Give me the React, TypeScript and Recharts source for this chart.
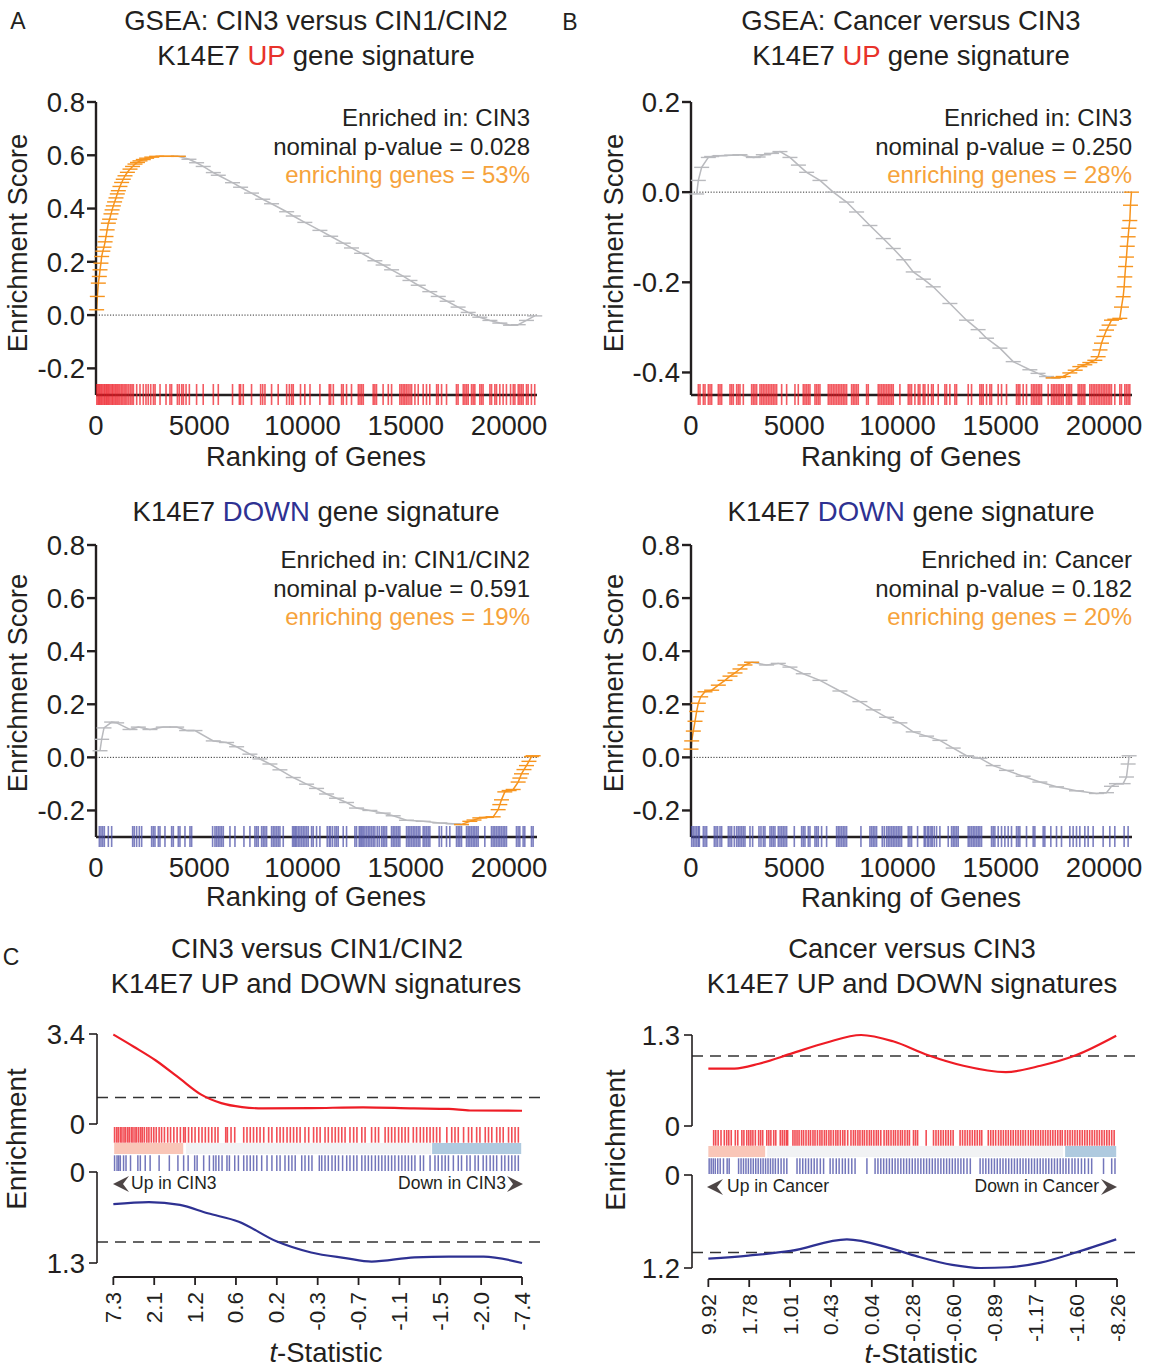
import React from "react";
import { ComposedChart, Line, Scatter, XAxis, YAxis, ReferenceLine, ReferenceArea } from "recharts";

const FONT = '"Liberation Sans", Arial, Helvetica, sans-serif';
const INK = "#231f20";
const GRAY = "#b9babe";
const ORANGE = "#f7941d";
const ORANGE_TXT = "#f6a33c";
const RED = "#ee1c25";
const NAVY = "#2e3192";
const BAR_BLUE = "#4b4fa8";

// ---------- GSEA panels: running enrichment score [rank, ES] ----------
const rankTicks = [0, 5000, 10000, 15000, 20000];

const upLeadA = [[30,0.02],[64,0.07],[113,0.12],[160,0.145],[194,0.17],[240,0.195],[274,0.22],[330,0.24],[387,0.255],[440,0.275],[484,0.295],[540,0.32],[597,0.345],[660,0.36],[726,0.38],[780,0.395],[839,0.41],[900,0.425],[968,0.44],[1030,0.455],[1081,0.467],[1160,0.483],[1242,0.498],[1320,0.51],[1404,0.523],[1520,0.536],[1646,0.548],[1770,0.558],[1888,0.567],[2010,0.573],[2130,0.579],[2290,0.584],[2452,0.589],[2700,0.593],[2936,0.596],[3420,0.596],[3985,0.596]];
const upGrayA = [[3985,0.596],[4500,0.585],[4870,0.572],[5190,0.558],[5680,0.535],[5920,0.525],[6610,0.497],[7000,0.48],[7530,0.458],[8070,0.435],[8500,0.418],[9230,0.388],[9550,0.372],[10110,0.348],[10840,0.318],[11360,0.296],[11970,0.27],[12370,0.252],[12860,0.232],[13500,0.204],[13900,0.188],[14310,0.17],[14870,0.146],[15200,0.13],[15600,0.112],[16160,0.088],[16570,0.07],[17000,0.052],[17530,0.03],[18020,0.01],[18580,-0.008],[19070,-0.02],[19550,-0.03],[20070,-0.038],[20440,-0.036],[20840,-0.02],[21240,-0.003]];
const upHitsA = [40,100,150,200,260,310,380,430,490,540,600,650,720,780,830,900,960,1020,1080,1150,1220,1290,1360,1430,1500,1580,1660,1740,1810,1970,2130,2290,2420,2530,2650,2780,2860,3100,3390,3580,3660,3940,4030,4150,4230,4360,4520,4870,5190,5680,5920,6610,6940,7000,7130,7530,7970,8070,8180,8500,8820,9230,9360,9470,9550,9900,10110,10360,10840,11290,11360,11490,11890,11970,12130,12370,12700,12780,12860,12940,13420,13500,13580,13900,14150,14310,14710,14790,14870,14950,15030,15110,15200,15280,15440,15600,15840,16000,16160,16490,16570,16730,16970,17450,17530,17780,17860,17940,18020,18180,18260,18340,18580,18660,18740,19070,19150,19310,19390,19550,19710,19870,20070,20200,20280,20440,20520,20600,20680,20840,20920,21080,21240];

const upGrayB = [[274,-0.004],[355,0.026],[516,0.055],[839,0.077],[1000,0.079],[1404,0.081],[1968,0.082],[2372,0.083],[3017,0.077],[3250,0.078],[3501,0.083],[3900,0.086],[4307,0.09],[4791,0.077],[5200,0.06],[5598,0.044],[6243,0.026],[6888,0.0],[7533,-0.022],[8017,-0.044],[8662,-0.074],[9307,-0.103],[9791,-0.125],[10300,-0.15],[10759,-0.177],[11250,-0.193],[11727,-0.21],[12534,-0.247],[13340,-0.284],[13900,-0.305],[14308,-0.324],[14953,-0.346],[15598,-0.376],[16405,-0.394],[16800,-0.402],[17212,-0.409],[17534,-0.412]];
const upLeadB = [[17534,-0.412],[17800,-0.411],[18018,-0.409],[18340,-0.401],[18600,-0.395],[18824,-0.387],[19066,-0.383],[19308,-0.378],[19550,-0.373],[19711,-0.365],[19800,-0.35],[19873,-0.335],[19990,-0.32],[20115,-0.306],[20240,-0.295],[20357,-0.284],[20518,-0.282],[20760,-0.28],[20840,-0.255],[20921,-0.232],[20970,-0.21],[21002,-0.188],[21040,-0.165],[21082,-0.144],[21120,-0.12],[21163,-0.099],[21200,-0.08],[21244,-0.063],[21276,-0.029],[21324,0.0]];
const upHitsB = [355,436,597,678,839,920,1000,1323,1404,1484,1888,1968,2049,2210,2291,2371,2533,2936,3017,3097,3178,3339,3420,3500,3581,3662,3743,3823,3904,3984,4065,4146,4388,4630,5033,5194,5436,5517,5597,5678,5759,6001,6081,6162,6243,6646,6727,6807,6888,6969,7049,7130,7210,7291,7372,7452,7533,7775,7856,7936,8017,8098,8501,8582,9065,9146,9227,9307,9388,9469,9549,9630,9711,9791,10114,10517,10598,10678,10840,11001,11082,11243,11324,11485,11646,11727,11969,12291,12372,12533,12775,12856,13421,13582,13985,14066,14146,14308,14469,14550,14872,15034,15275,15759,15840,15921,16082,16243,16485,16566,16647,16727,16808,16888,16969,17292,17453,17534,17614,17695,17776,17856,17937,18018,18179,18260,18340,18421,18743,18824,18905,18985,19066,19308,19389,19469,19550,19630,19711,19792,19873,19953,20034,20114,20195,20276,20356,20518,20760,20840,21002,21082,21163,21244];

const dnGrayA = [[194,0.025],[274,0.068],[387,0.111],[758,0.133],[1000,0.13],[1646,0.105],[2049,0.114],[2613,0.105],[3259,0.114],[3904,0.114],[4388,0.101],[4791,0.101],[5678,0.062],[6323,0.056],[6807,0.04],[7452,0.012],[7936,-0.006],[8420,-0.025],[8904,-0.047],[9549,-0.076],[10194,-0.101],[10678,-0.117],[11162,-0.138],[11646,-0.154],[12130,-0.17],[12614,-0.191],[13259,-0.2],[13904,-0.21],[14388,-0.22],[15033,-0.237],[15840,-0.241],[16646,-0.247],[17292,-0.25],[17695,-0.253]];
const dnLeadA = [[17695,-0.253],[18098,-0.241],[18300,-0.236],[18582,-0.228],[18900,-0.226],[19228,-0.224],[19469,-0.197],[19550,-0.178],[19630,-0.16],[19792,-0.13],[20000,-0.125],[20195,-0.121],[20437,-0.093],[20520,-0.078],[20598,-0.062],[20720,-0.046],[20840,-0.031],[20960,-0.015],[21082,0.003],[21163,0.006]];
const dnHitsA = [162,242,323,404,597,758,1775,1855,1968,2097,2210,2694,2775,2855,3017,3097,3339,3662,3743,3984,4065,4307,4549,4630,5646,5759,5839,5920,6001,6081,6162,6485,6727,7162,7452,7694,7775,7856,8017,8098,8178,8259,8501,8582,8662,8743,8823,8904,9065,9517,9582,9646,9711,9791,9872,9953,10033,10114,10195,10275,10436,10517,10678,10840,11195,11291,11356,11453,11566,11646,11727,11969,12130,12533,12614,12743,12808,12872,12937,13017,13098,13179,13259,13340,13421,13501,13614,13711,13824,13904,13985,14066,14308,14388,14469,14550,14630,14711,15034,15114,15195,15275,15356,15437,15517,15598,15679,15840,15921,16001,16082,16163,16614,16727,16969,17130,17453,17534,17614,17695,17937,18018,18098,18179,18260,18340,18421,18501,18824,19147,19227,19308,19389,19469,19550,19630,19711,19792,19872,20356,20437,20518,20679,20759,21082,21163];

const dnLeadB = [[0,0.031],[33,0.062],[113,0.099],[194,0.136],[274,0.173],[355,0.204],[468,0.228],[678,0.247],[1000,0.253],[1323,0.272],[1646,0.29],[1888,0.306],[2130,0.318],[2371,0.333],[2613,0.348],[2936,0.358]];
const dnGrayB = [[2936,0.358],[3662,0.348],[4226,0.354],[4791,0.34],[5436,0.315],[6243,0.29],[7210,0.25],[8178,0.21],[8823,0.179],[9468,0.151],[10114,0.13],[10759,0.096],[11404,0.08],[12049,0.064],[12694,0.035],[13340,0.006],[13985,-0.003],[14630,-0.031],[15275,-0.049],[16081,-0.071],[16888,-0.093],[17695,-0.111],[18662,-0.126],[19630,-0.136],[20114,-0.133],[20356,-0.109],[20598,-0.099],[20921,-0.099],[21082,-0.074],[21163,-0.025],[21211,0.006]];
const dnHitsB = [33,113,194,275,355,404,597,678,758,1129,1210,1291,1404,1484,1807,1888,1968,2097,2210,2291,2371,2452,2533,2613,2855,2984,3291,3388,3501,3581,3823,3904,3984,4065,4226,4307,4388,4468,4549,4630,5001,5356,5436,5517,5678,5759,6001,6081,6162,6323,6565,7049,7130,7210,7291,7372,7452,7533,8227,8662,8743,8823,8904,8985,9259,9356,9469,9549,9630,9711,9791,9872,9953,10033,10114,10195,10517,10598,10678,10969,11291,11356,11453,11517,11614,11678,11775,11888,12049,12453,12614,12695,12775,12856,12937,13421,13501,13582,13663,13743,13824,13904,13985,14066,14550,14630,14711,14872,15034,15195,15356,15517,15759,15840,15921,16243,16566,16647,17050,17130,17421,17695,17937,18340,18501,18663,18824,19066,19227,19469,19953,20276,20518,20969,21163];

// ---------- Barcode enrichment panels (position in ranked list, %) ----------
const cinTickLabels = ["7.3", "2.1", "1.2", "0.6", "0.2", "-0.3", "-0.7", "-1.1", "-1.5", "-2.0", "-7.4"];
const canTickLabels = ["9.92", "1.78", "1.01", "0.43", "0.04", "-0.28", "-0.60", "-0.89", "-1.17", "-1.60", "-8.26"];

const cinUpCurve = [[0,3.38],[5,2.92],[10.4,2.4],[16.3,1.71],[21.4,1.12],[26.4,0.79],[31.5,0.64],[36.6,0.59],[48.4,0.6],[61.1,0.63],[73.5,0.59],[82.1,0.57],[87.3,0.51],[100,0.5]];
const cinDownCurve = [[0,0.46],[8.7,0.43],[16.3,0.47],[23.1,0.59],[30.7,0.71],[39.9,0.99],[48.4,1.15],[56.8,1.23],[63.2,1.28],[73.7,1.22],[82.1,1.21],[90.6,1.21],[100,1.3]];
const canUpCurve = [[0,0.82],[6.4,0.82],[12.4,0.89],[20.1,1.03],[28.8,1.19],[37.4,1.3],[45.2,1.21],[53.8,1.01],[62.4,0.86],[72.8,0.77],[81.3,0.86],[89.9,1.01],[99.8,1.29]];
const canDownCurve = [[0,1.08],[9.8,1.04],[20.1,0.98],[33.9,0.83],[44.2,0.94],[51.1,1.05],[59.7,1.16],[66.6,1.2],[73.5,1.19],[81.3,1.13],[89.9,1.0],[99.8,0.83]];

const cinUpHits = [0.3,0.8,1.2,1.7,2.1,2.6,3.0,3.5,3.9,4.4,4.8,5.3,5.7,6.2,6.7,7.1,7.6,8.2,8.7,9.3,9.9,10.5,11.2,11.8,12.5,13.3,14.0,14.8,15.6,16.4,17.2,17.6,18.4,19.2,20.0,20.9,21.7,22.5,23.3,24.1,24.9,25.6,27.5,27.9,28.8,29.7,31.9,32.7,33.5,34.3,35.1,35.9,36.8,38.0,38.8,40.0,40.8,41.6,42.5,43.3,44.1,44.9,45.7,46.9,47.8,49.0,49.8,50.6,51.8,52.6,53.5,54.3,55.1,55.9,56.7,57.9,58.8,59.6,60.8,61.6,63.2,64.1,64.9,66.5,67.3,68.1,68.9,69.8,70.6,71.4,72.2,73.4,74.2,75.1,75.9,76.7,77.5,78.3,79.1,79.9,81.6,82.8,83.6,84.4,85.7,86.9,87.7,88.9,89.7,91.0,91.8,92.6,93.8,94.6,95.4,96.7,97.5,98.3,99.1];
const cinDownHits = [0.3,0.9,1.3,1.7,2.5,3.1,4.2,6.0,6.6,7.8,9.0,11.2,13.7,15.8,17.2,18.3,19.9,20.5,22.1,23.5,24.5,25.1,25.8,26.6,27.8,28.4,29.7,30.6,31.9,32.7,33.5,34.3,35.1,36.3,37.6,38.8,40.0,40.8,42.0,42.9,43.7,44.5,46.1,46.9,47.8,48.6,50.4,51.0,51.8,52.6,53.5,54.3,55.1,56.1,57.1,57.9,58.8,59.6,60.8,61.6,62.4,63.2,64.1,64.9,65.7,66.5,67.3,68.1,68.9,69.8,70.6,71.4,72.2,73.0,73.8,75.1,75.9,77.5,78.7,79.5,80.4,81.2,82.0,83.2,84.4,85.2,86.5,87.3,88.5,89.3,90.5,91.3,92.2,93.0,93.8,95.0,95.8,96.7,97.5,98.3,99.1];
const canUpHits = [1.3,1.8,2.4,3.1,3.9,4.5,5.0,5.6,6.6,7.2,8.2,8.7,9.4,9.9,10.4,10.9,11.5,12.3,12.8,13.3,14.3,14.8,15.3,16.0,16.5,17.6,18.1,18.6,19.1,19.4,20.7,21.2,21.7,22.2,22.8,23.3,23.9,24.5,25.0,25.6,26.1,26.7,27.3,27.8,28.4,28.9,29.5,30.0,30.6,31.2,31.7,32.3,32.9,33.4,34.1,34.9,35.5,36.0,36.6,37.1,37.7,38.2,38.8,39.4,39.9,40.5,41.1,41.6,42.2,43.0,43.6,44.1,44.7,45.3,45.8,46.4,47.0,47.5,48.1,48.7,49.2,50.2,50.7,51.2,53.3,55.1,55.7,56.3,56.9,57.5,58.1,58.7,59.3,59.9,61.6,62.2,62.8,63.4,64.0,64.6,65.2,65.8,66.4,66.9,68.5,69.1,69.7,70.3,71.0,71.6,72.2,72.8,73.4,74.0,74.6,75.2,75.8,76.4,77.0,77.6,78.3,78.9,79.5,80.1,80.7,81.3,81.9,82.5,83.1,83.7,84.3,84.9,85.5,86.1,86.6,87.3,87.9,88.5,89.1,89.7,90.3,90.9,91.5,92.1,92.7,93.3,93.9,94.5,95.1,95.7,96.3,96.9,97.5,98.1,98.7,99.3];
const canDownHits = [0.2,0.7,1.2,1.7,2.3,2.9,3.7,4.6,5.1,7.4,8.0,8.6,9.2,9.8,10.4,11.0,11.6,12.2,12.8,13.4,14.0,14.6,15.2,15.8,16.4,17.1,17.8,18.5,19.2,21.7,22.4,23.1,23.8,24.5,25.2,25.9,26.6,27.4,28.2,29.8,30.5,31.3,32.0,32.8,33.5,34.3,35.1,35.9,38.8,40.8,41.5,42.2,42.9,43.6,44.3,45.0,45.7,46.4,47.1,47.8,48.5,49.2,49.9,50.6,51.3,52.0,52.7,53.4,54.1,54.8,55.5,56.2,56.9,57.6,58.3,59.0,59.7,60.4,61.1,61.8,62.5,63.3,64.1,66.5,67.2,67.9,68.6,69.3,70.0,70.7,71.4,72.1,72.8,73.5,74.2,74.9,75.6,76.3,77.0,77.7,78.4,79.1,79.8,80.5,81.2,81.9,82.6,83.3,84.0,84.7,85.4,86.1,86.8,87.5,88.2,89.0,89.7,90.5,91.3,92.1,93.0,93.8,96.7,98.7,99.5];

const cinBands = [{ from: 0.2, to: 17.1, kind: "up" }, { from: 17.8, to: 77.8, kind: "mid" }, { from: 78.0, to: 99.8, kind: "down" }];
const canBands = [{ from: 0.0, to: 13.9, kind: "up" }, { from: 14.4, to: 86.8, kind: "mid" }, { from: 87.3, to: 99.8, kind: "down" }];
const bandFill: Record<string, string> = { up: "#f9c6b8", mid: "#f1f2f4", down: "#afcadf" };

const pts = (a: number[][]) => a.map(([x, y]) => ({ x, y }));

function Txt({ x, y, size = 27.5, align = "center", color = INK, rot = false, children }: any) {
  const tx = align === "center" ? "-50%" : align === "right" ? "-100%" : "0";
  return (
    <div style={{ position: "absolute", left: x, top: y, fontSize: size, lineHeight: 1, whiteSpace: "nowrap", color, fontFamily: FONT, transform: `translate(${tx}, -50%)${rot ? " rotate(-90deg)" : ""}` }}>
      {children}
    </div>
  );
}

const dash = (color: string) => (p: any) => (
  <line key={`d${p.index}`} x1={p.cx - 7.5} x2={p.cx + 7.5} y1={p.cy} y2={p.cy} stroke={color} strokeWidth={1.4} />
);
const tick = (color: string, up: number, down: number, op: number, w: number) => (p: any) => (
  <line x1={p.cx} x2={p.cx} y1={p.cy - up} y2={p.cy + down} stroke={color} strokeOpacity={op} strokeWidth={w} />
);

const tickFont = { fontSize: 27.5, fill: INK, fontFamily: FONT };

function GseaPanel({ axisX, top, bottom, yDomain, yTicks, gray, lead, hits, hitColor }: any) {
  const h = bottom - top;
  const hitPts = hits.map((r: number) => ({ x: r, y: yDomain[0] }));
  return (
    <div style={{ position: "absolute", left: axisX - 60, top: top - 14 }}>
      <ComposedChart width={60 + 441 + 16} height={14 + h + 50} margin={{ top: 14, right: 16, bottom: 0, left: 0 }}>
        <XAxis type="number" dataKey="x" domain={[0, 21350]} ticks={rankTicks} interval={0} tickLine={false} tickSize={0} tickMargin={20} height={50} axisLine={{ stroke: INK, strokeWidth: 2.4 }} tick={tickFont} />
        <YAxis type="number" dataKey="y" domain={yDomain} ticks={yTicks} interval={0} width={60} tickSize={9} tickMargin={2} tickFormatter={(v: number) => v.toFixed(1)} axisLine={{ stroke: INK, strokeWidth: 2.4 }} tickLine={{ stroke: INK, strokeWidth: 2.4 }} tick={tickFont} />
        <ReferenceLine y={0} stroke="#333" strokeWidth={1} strokeDasharray="1.2 1.6" />
        <Scatter data={hitPts} shape={tick(hitColor, 11, 10, 0.72, 1.6)} isAnimationActive={false} />
        <Line data={pts(gray)} dataKey="y" type="linear" stroke={GRAY} strokeWidth={1.5} dot={dash(GRAY)} activeDot={false} isAnimationActive={false} />
        <Line data={pts(lead)} dataKey="y" type="linear" stroke={ORANGE} strokeWidth={1.5} dot={dash(ORANGE)} activeDot={false} isAnimationActive={false} />
      </ComposedChart>
    </div>
  );
}

const X_DOMAIN = [-4, 104.4];

function CurveChart({ axisX, top, h, max, reversed, curve, color }: any) {
  return (
    <div style={{ position: "absolute", left: axisX - 60, top: top - 16 }}>
      <ComposedChart width={505} height={16 + h + 16} margin={{ top: 16, right: 2, bottom: 16, left: 0 }}>
        <XAxis type="number" dataKey="x" domain={X_DOMAIN} hide />
        <YAxis type="number" dataKey="y" domain={[0, max]} ticks={[0, max]} interval={0} reversed={reversed} width={60} tickSize={8} tickMargin={4} tickFormatter={(v: number) => String(v)} axisLine={{ stroke: INK, strokeWidth: 1.6 }} tickLine={{ stroke: INK, strokeWidth: 1.6 }} tick={tickFont} />
        <ReferenceLine y={1} stroke="#333" strokeWidth={1.4} strokeDasharray="11 7" />
        <Line data={pts(curve)} dataKey="y" type="monotone" stroke={color} strokeWidth={2.2} dot={false} activeDot={false} isAnimationActive={false} />
      </ComposedChart>
    </div>
  );
}

function BarcodeChart({ axisX, top, upHits, downHits, bands }: any) {
  return (
    <div style={{ position: "absolute", left: axisX - 60, top }}>
      <ComposedChart width={505} height={44} margin={{ top: 0, right: 2, bottom: 0, left: 60 }}>
        <XAxis type="number" dataKey="x" domain={X_DOMAIN} hide />
        <YAxis type="number" dataKey="y" domain={[0, 4]} hide />
        {bands.map((b: any) => (
          <ReferenceArea key={b.kind} x1={b.from} x2={b.to} y1={1.55} y2={2.55} fill={bandFill[b.kind]} fillOpacity={1} stroke="none" />
        ))}
        <Scatter data={upHits.map((x: number) => ({ x, y: 3.3 }))} shape={tick(RED, 8, 8, 0.78, 1.6)} isAnimationActive={false} />
        <Scatter data={downHits.map((x: number) => ({ x, y: 0.7 }))} shape={tick(BAR_BLUE, 8, 8, 0.78, 1.5)} isAnimationActive={false} />
      </ComposedChart>
    </div>
  );
}

function StatAxis({ axisX, y, labels, size, h }: any) {
  const positions = labels.map((_: string, i: number) => i * 10);
  const RotTick = (p: any) => (
    <text x={p.x} y={p.y} transform={`rotate(-90 ${p.x} ${p.y})`} textAnchor="end" dominantBaseline="central" fontSize={size} fill={INK} fontFamily={FONT}>
      {labels[Math.round(p.payload.value / 10)]}
    </text>
  );
  return (
    <div style={{ position: "absolute", left: axisX - 60, top: y - 10 }}>
      <ComposedChart width={505} height={10 + h} data={positions.map((x: number) => ({ x, y: 0 }))} margin={{ top: 10, right: 20, bottom: 0, left: 76.35 }}>
        <XAxis type="number" dataKey="x" domain={[0, 100]} ticks={positions} height={h} tickSize={8} tickMargin={7} axisLine={{ stroke: INK, strokeWidth: 1.8 }} tickLine={{ stroke: INK, strokeWidth: 1.8 }} tick={RotTick} interval={0} />
        <YAxis type="number" dataKey="y" domain={[0, 1]} hide />
      </ComposedChart>
    </div>
  );
}

const Arrow = ({ x, y, dir }: any) => (
  <svg style={{ position: "absolute", left: x, top: y - 9 }} width={16} height={18}>
    <polygon points={dir < 0 ? "0,9 16,1 10,9 16,17" : "16,9 0,1 6,9 0,17"} fill="#4d4545" />
  </svg>
);

export default function App() {
  return (
    <div style={{ position: "absolute", left: 0, top: 0, width: 1151, height: 1369, background: "#fff", fontFamily: FONT, overflow: "hidden" }}>
      {/* Panel letters */}
      <Txt x={18} y={21} size={23}>A</Txt>
      <Txt x={570} y={22} size={23}>B</Txt>
      <Txt x={11} y={957} size={23}>C</Txt>

      {/* Titles */}
      <Txt x={316} y={21}>GSEA: CIN3 versus CIN1/CIN2</Txt>
      <Txt x={316} y={56}>K14E7 <span style={{ color: "#e8322b" }}>UP</span> gene signature</Txt>
      <Txt x={911} y={21}>GSEA: Cancer versus CIN3</Txt>
      <Txt x={911} y={56}>K14E7 <span style={{ color: "#e8322b" }}>UP</span> gene signature</Txt>
      <Txt x={316} y={512}>K14E7 <span style={{ color: NAVY }}>DOWN</span> gene signature</Txt>
      <Txt x={911} y={512}>K14E7 <span style={{ color: NAVY }}>DOWN</span> gene signature</Txt>
      <Txt x={317} y={949}>CIN3 versus CIN1/CIN2</Txt>
      <Txt x={316} y={984}>K14E7 UP and DOWN signatures</Txt>
      <Txt x={912} y={949}>Cancer versus CIN3</Txt>
      <Txt x={912} y={984}>K14E7 UP and DOWN signatures</Txt>

      {/* GSEA panels */}
      <GseaPanel axisX={96} top={102} bottom={395} yDomain={[-0.3, 0.8]} yTicks={[-0.2, 0, 0.2, 0.4, 0.6, 0.8]} gray={upGrayA} lead={upLeadA} hits={upHitsA} hitColor={RED} />
      <GseaPanel axisX={691} top={102} bottom={395} yDomain={[-0.45, 0.2]} yTicks={[-0.4, -0.2, 0, 0.2]} gray={upGrayB} lead={upLeadB} hits={upHitsB} hitColor={RED} />
      <GseaPanel axisX={96} top={545} bottom={837} yDomain={[-0.3, 0.8]} yTicks={[-0.2, 0, 0.2, 0.4, 0.6, 0.8]} gray={dnGrayA} lead={dnLeadA} hits={dnHitsA} hitColor={BAR_BLUE} />
      <GseaPanel axisX={691} top={545} bottom={837} yDomain={[-0.3, 0.8]} yTicks={[-0.2, 0, 0.2, 0.4, 0.6, 0.8]} gray={dnGrayB} lead={dnLeadB} hits={dnHitsB} hitColor={BAR_BLUE} />

      {/* GSEA annotations */}
      <Txt x={530} y={118} size={24} align="right">Enriched in: CIN3</Txt>
      <Txt x={530} y={147} size={24} align="right">nominal p-value = 0.028</Txt>
      <Txt x={530} y={175} size={24} align="right" color={ORANGE_TXT}>enriching genes = 53%</Txt>
      <Txt x={1132} y={118} size={24} align="right">Enriched in: CIN3</Txt>
      <Txt x={1132} y={147} size={24} align="right">nominal p-value = 0.250</Txt>
      <Txt x={1132} y={175} size={24} align="right" color={ORANGE_TXT}>enriching genes = 28%</Txt>
      <Txt x={530} y={560} size={24} align="right">Enriched in: CIN1/CIN2</Txt>
      <Txt x={530} y={589} size={24} align="right">nominal p-value = 0.591</Txt>
      <Txt x={530} y={617} size={24} align="right" color={ORANGE_TXT}>enriching genes = 19%</Txt>
      <Txt x={1132} y={560} size={24} align="right">Enriched in: Cancer</Txt>
      <Txt x={1132} y={589} size={24} align="right">nominal p-value = 0.182</Txt>
      <Txt x={1132} y={617} size={24} align="right" color={ORANGE_TXT}>enriching genes = 20%</Txt>

      {/* GSEA axis titles */}
      <Txt x={18} y={243} rot>Enrichment Score</Txt>
      <Txt x={614} y={243} rot>Enrichment Score</Txt>
      <Txt x={18} y={683} rot>Enrichment Score</Txt>
      <Txt x={614} y={683} rot>Enrichment Score</Txt>
      <Txt x={316} y={457}>Ranking of Genes</Txt>
      <Txt x={911} y={457}>Ranking of Genes</Txt>
      <Txt x={316} y={897}>Ranking of Genes</Txt>
      <Txt x={911} y={898}>Ranking of Genes</Txt>

      {/* Panel C left */}
      <CurveChart axisX={97} top={1034} h={90} max={3.4} curve={cinUpCurve} color={RED} />
      <BarcodeChart axisX={97} top={1127} upHits={cinUpHits} downHits={cinDownHits} bands={cinBands} />
      <CurveChart axisX={97} top={1172} h={91} max={1.3} reversed curve={cinDownCurve} color={NAVY} />
      <StatAxis axisX={97} y={1277} labels={cinTickLabels} size={22.5} h={58} />
      <Arrow x={113} y={1184} dir={-1} />
      <Txt x={131} y={1184} size={17.5} align="left">Up in CIN3</Txt>
      <Txt x={506} y={1184} size={17.5} align="right">Down in CIN3</Txt>
      <Arrow x={507} y={1184} dir={1} />
      <Txt x={17} y={1139} size={28} rot>Enrichment</Txt>
      <Txt x={326} y={1353} size={27.5}><i>t</i>-Statistic</Txt>

      {/* Panel C right */}
      <CurveChart axisX={692} top={1035} h={91} max={1.3} curve={canUpCurve} color={RED} />
      <BarcodeChart axisX={692} top={1129.5} upHits={canUpHits} downHits={canDownHits} bands={canBands} />
      <CurveChart axisX={692} top={1175} h={93} max={1.2} reversed curve={canDownCurve} color={NAVY} />
      <StatAxis axisX={692} y={1279} labels={canTickLabels} size={21} h={62} />
      <Arrow x={707} y={1187} dir={-1} />
      <Txt x={727} y={1187} size={17.5} align="left">Up in Cancer</Txt>
      <Txt x={1099} y={1187} size={17.5} align="right">Down in Cancer</Txt>
      <Arrow x={1101} y={1187} dir={1} />
      <Txt x={616} y={1140} size={28} rot>Enrichment</Txt>
      <Txt x={921} y={1354} size={27.5}><i>t</i>-Statistic</Txt>
    </div>
  );
}
